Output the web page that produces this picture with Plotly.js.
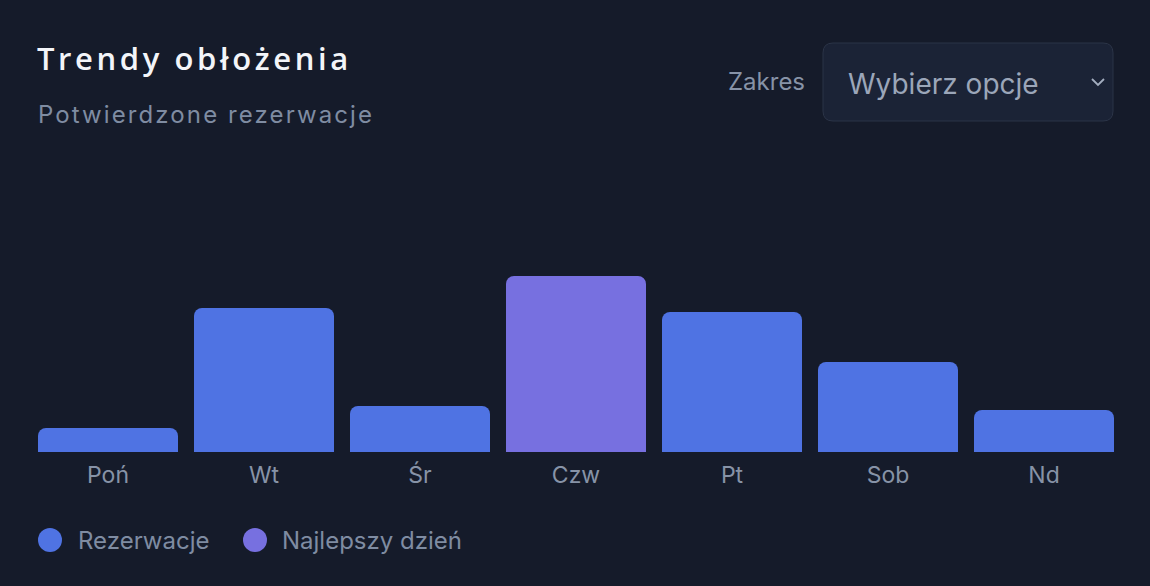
<!DOCTYPE html>
<html>
<head>
<meta charset="utf-8">
<script src="https://cdn.plot.ly/plotly-3.0.1.min.js"></script>
<style>
html,body{margin:0;padding:0;background:#151b2a;}
#chart{width:1150px;height:586px;}
</style>
</head>
<body>
<div id="chart"></div>
<script>
const days = ["Poń", "Wt", "Śr", "Czw", "Pt", "Sob", "Nd"];
const bookings = [12, 72, 23, 88, 70, 45, 21];
const bestDay = "Czw";
const seriesNames = ["Rezerwacje", "Najlepszy dzień"];
const seriesColors = ["#4f73e3", "#7770e0"];
const titleText = "Trendy obłożenia";
const subtitleText = "Potwierdzone rezerwacje";
const rangeLabel = "Zakres";
const selectText = "Wybierz opcje";

const W = 1150, H = 586;
const M = {l: 30, r: 28, t: 252, b: 134};
const PW = W - M.l - M.r, PH = H - M.t - M.b;
const px = x => (x - M.l) / PW;
const py = y => (H - M.b - y) / PH;

function roundRect(x0, y0, x1, y1, r) {
  const p = (x, y) => px(x) + "," + py(y);
  return "M" + p(x0 + r, y0) + " L" + p(x1 - r, y0) + " Q" + p(x1, y0) + " " + p(x1, y0 + r) +
    " L" + p(x1, y1 - r) + " Q" + p(x1, y1) + " " + p(x1 - r, y1) +
    " L" + p(x0 + r, y1) + " Q" + p(x0, y1) + " " + p(x0, y1 - r) +
    " L" + p(x0, y0 + r) + " Q" + p(x0, y0) + " " + p(x0 + r, y0) + " Z";
}

const colors = days.map(d => d === bestDay ? seriesColors[1] : seriesColors[0]);

const trace = {
  type: "bar",
  x: days,
  y: bookings,
  marker: {color: colors, cornerradius: 8, line: {width: 0}},
  hoverinfo: "x+y",
  showlegend: false
};

const shapes = [
  {type: "path", xref: "paper", yref: "paper", path: roundRect(823, 43, 1113, 121, 10),
   fillcolor: "#1b2336", line: {color: "#2b3447", width: 1}, layer: "above"},
  {type: "path", xref: "paper", yref: "paper",
   path: "M" + px(1092) + "," + py(79) + " L" + px(1098) + "," + py(85) + " L" + px(1104) + "," + py(79),
   line: {color: "#a3adbf", width: 1.8}},
  {type: "circle", xref: "paper", yref: "paper", x0: px(38), x1: px(62), y0: py(552), y1: py(528),
   fillcolor: seriesColors[0], line: {width: 0}},
  {type: "circle", xref: "paper", yref: "paper", x0: px(243), x1: px(267), y0: py(552), y1: py(528),
   fillcolor: seriesColors[1], line: {width: 0}}
];

const txt = (x, y, text, size, color, anchor) => ({
  xref: "paper", yref: "paper", x: px(x), y: py(y), text: text, showarrow: false,
  xanchor: anchor || "left", yanchor: "middle", borderpad: 0,
  font: {family: "Inter, 'Noto Sans', sans-serif", size: size, color: color}
});

const annotations = [
  txt(37, 114, '<span style="letter-spacing:2.1px">' + subtitleText + '</span>', 24, "#7f8ca2"),
  txt(806, 82, rangeLabel, 24, "#8793a7", "right"),
  txt(847, 84, selectText, 28, "#9ba6b9"),
  txt(77, 540, seriesNames[0], 24, "#7f8ca2"),
  txt(281, 540, seriesNames[1], 24, "#7f8ca2")
];

const layout = {
  width: W, height: H,
  margin: M,
  paper_bgcolor: "#151b2a",
  plot_bgcolor: "#151b2a",
  title: {
    text: '<span style="letter-spacing:3.6px">' + titleText + '</span>', xref: "container", yref: "container",
    x: 37 / W, xanchor: "left", y: 1 - 59 / H, yanchor: "middle",
    font: {family: "'Open Sans', sans-serif", size: 31, color: "#f3f5f9", weight: 600}
  },
  bargap: 0.1026,
  xaxis: {
    showgrid: false, zeroline: false, showline: false,
    ticks: "outside", ticklen: 2, tickcolor: "rgba(0,0,0,0)",
    tickfont: {family: "Inter, 'Noto Sans', sans-serif", size: 23, color: "#8793a7"},
    fixedrange: true
  },
  yaxis: {
    range: [0, 100], showgrid: false, zeroline: false, showline: false,
    showticklabels: false, fixedrange: true
  },
  shapes: shapes,
  annotations: annotations,
  showlegend: false
};

Plotly.newPlot("chart", [trace], layout, {displayModeBar: false, responsive: false});
</script>
</body>
</html>
